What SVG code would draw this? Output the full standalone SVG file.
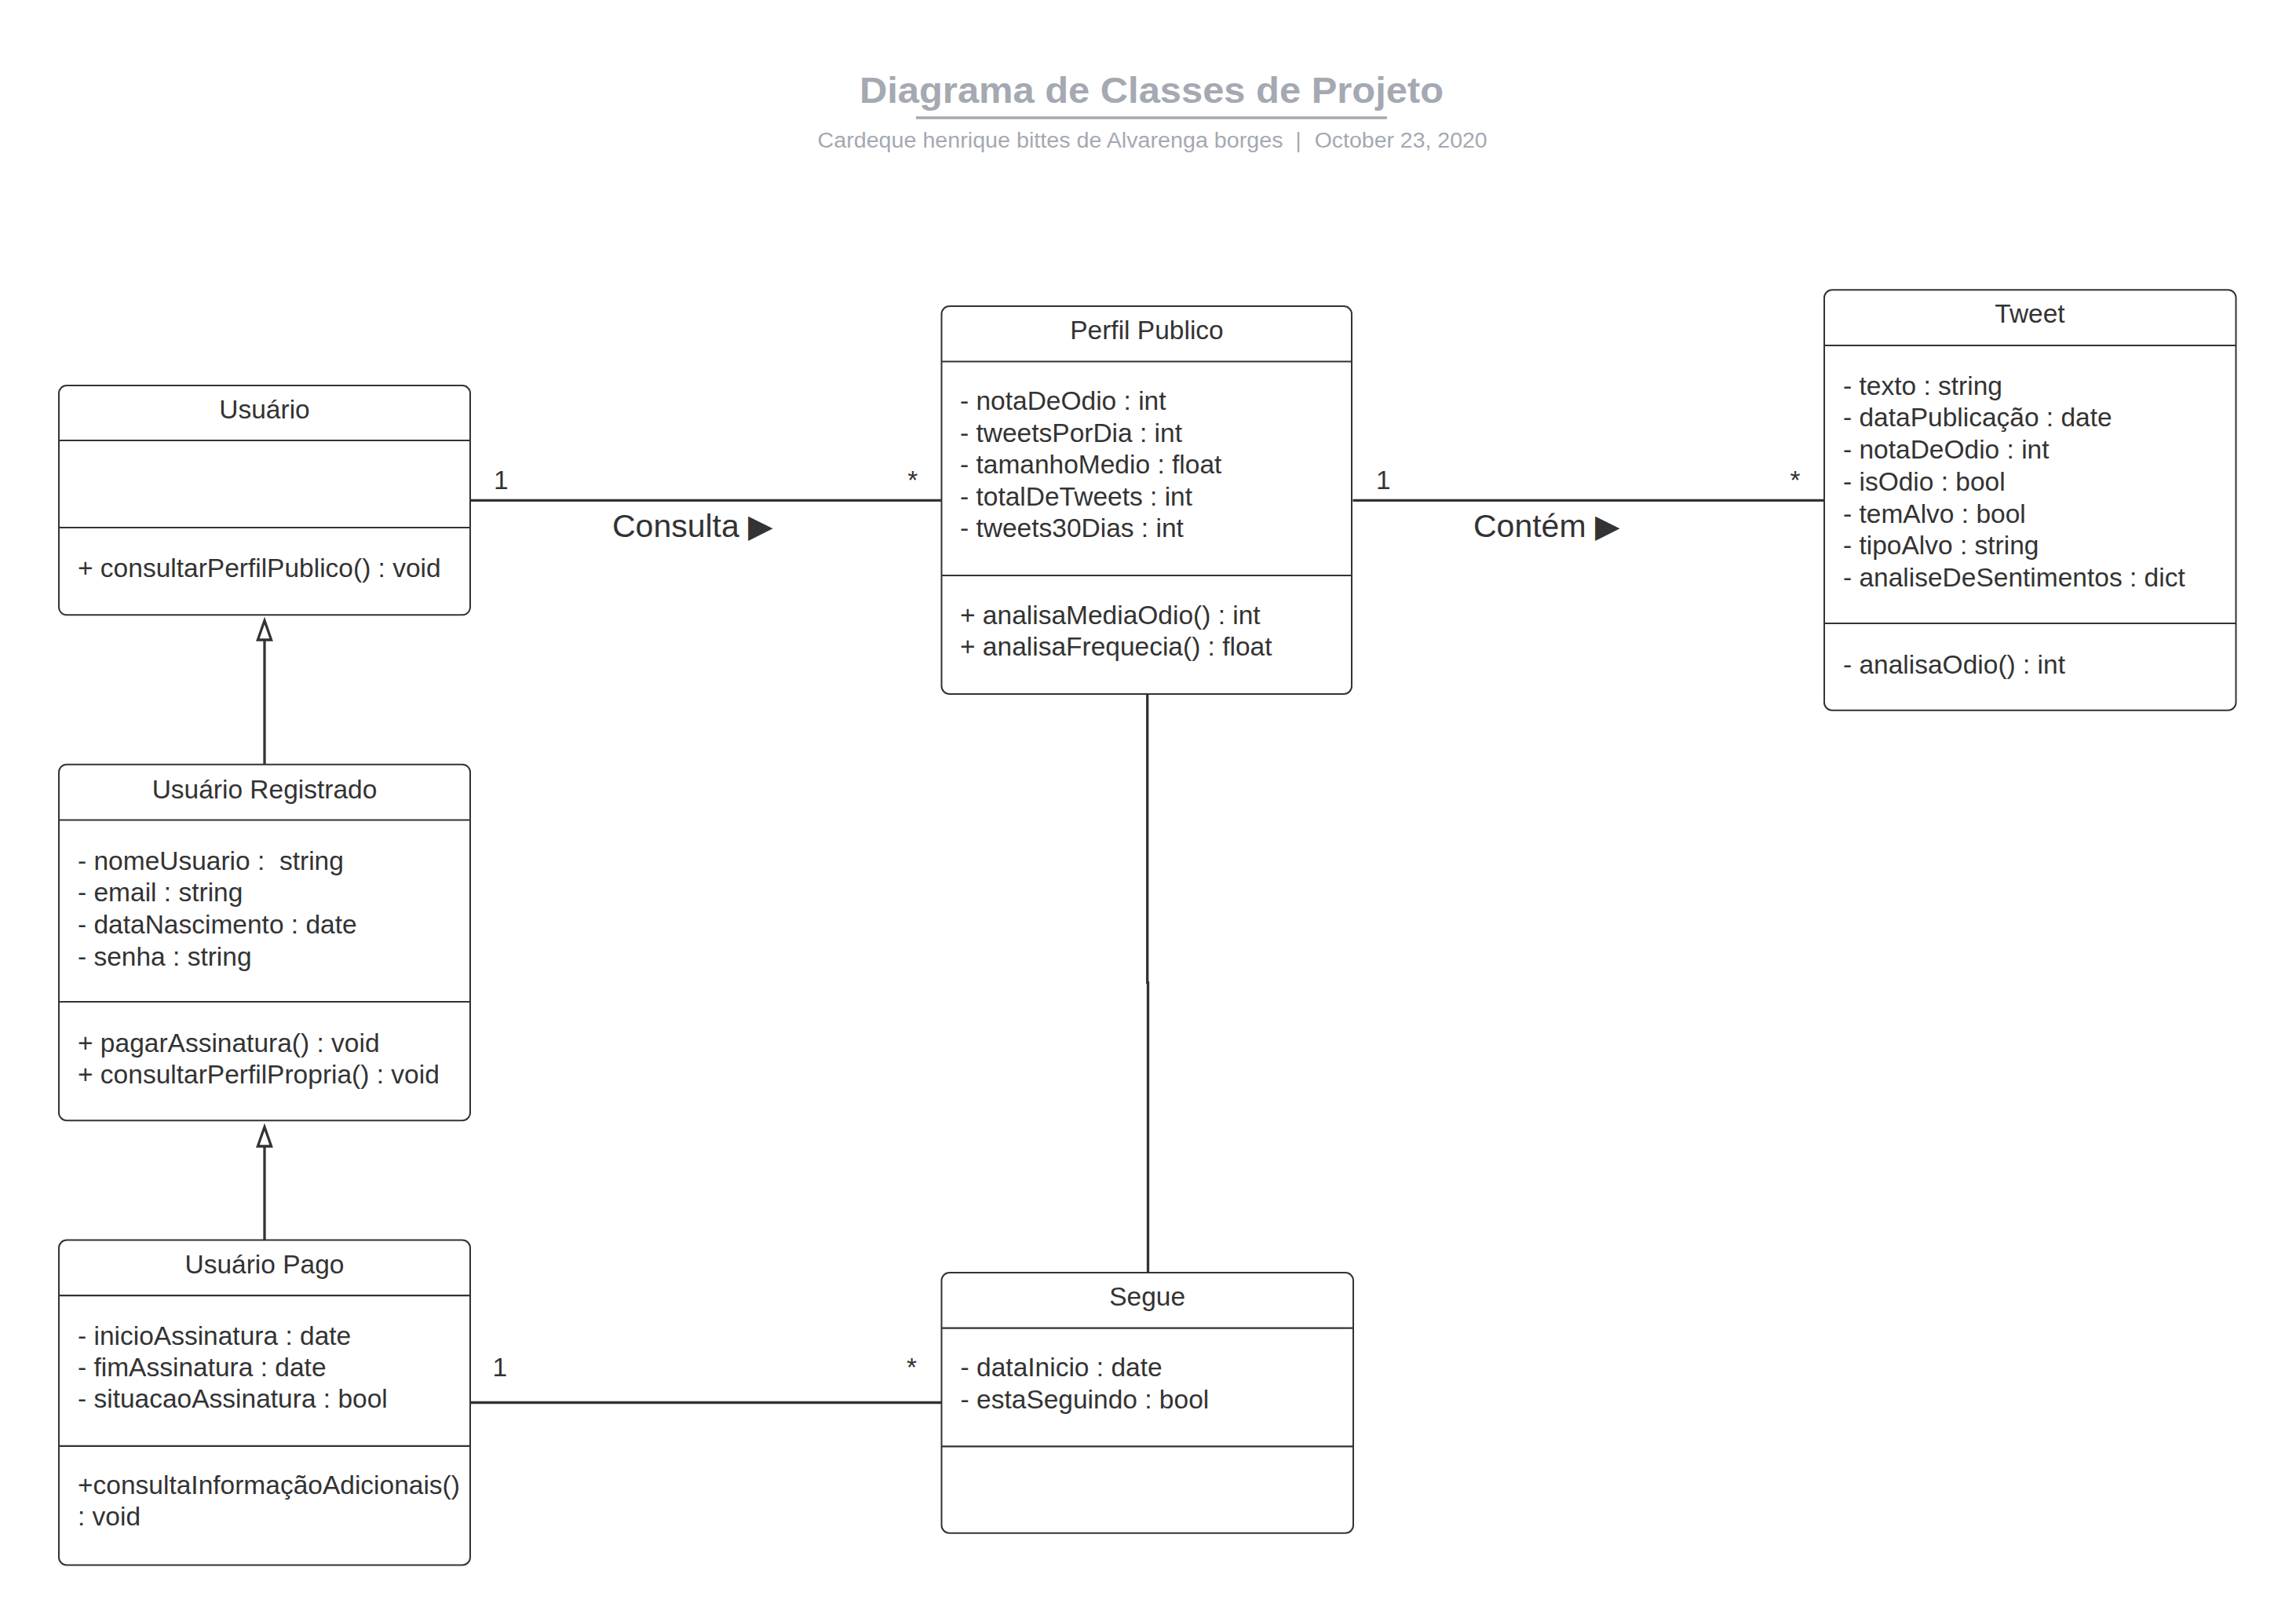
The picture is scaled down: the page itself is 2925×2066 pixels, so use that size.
<svg xmlns="http://www.w3.org/2000/svg" width="2925" height="2066" viewBox="0 0 2925 2066">
<style>
.bg{fill:#ffffff}
.box{fill:#ffffff;stroke:#333333;stroke-width:2}
.div{stroke:#333333;stroke-width:2.2}
.t{font-family:"Liberation Sans",Arial,sans-serif;font-size:33.5px;fill:#333333}
.c{text-anchor:middle}
.conn{fill:none;stroke:#333333;stroke-width:3.3}
.gen{fill:#ffffff;stroke:#333333;stroke-width:3.3;stroke-linejoin:miter}
.lbl{font-family:"Liberation Sans",Arial,sans-serif;font-size:41px;fill:#333333}
.head{font-family:"Liberation Sans",Arial,sans-serif;fill:#a4a9b2}
</style>
<rect class="bg" x="0" y="0" width="2925" height="2066"/>

<g id="header">
  <text class="head" x="1095" y="130.7" font-size="46" font-weight="bold" textLength="744" lengthAdjust="spacingAndGlyphs">Diagrama de Classes de Projeto</text>
  <line x1="1167" y1="150" x2="1767" y2="150" stroke="#a4a9b2" stroke-width="3.4"/>
  <text class="head" x="1041.5" y="187.7" font-size="27" textLength="593" lengthAdjust="spacingAndGlyphs">Cardeque henrique bittes de Alvarenga borges</text>
  <text class="head" x="1654" y="187.7" font-size="27" text-anchor="middle">|</text>
  <text class="head" x="1674.7" y="187.7" font-size="27" textLength="220" lengthAdjust="spacingAndGlyphs">October 23, 2020</text>
</g>

<g id="connectors">
  <path class="conn" d="M599,637.3 H1199.5"/>
  <path class="conn" d="M1723.5,637.3 H2324"/>
  <path class="conn" d="M599,1786.5 H1199.5"/>
  <path class="conn" d="M1461.7,884 V1251.7 H1462.5 V1621"/>
  <path class="conn" d="M337,973.7 V815"/>
  <polygon class="gen" points="337,790.5 328.4,815 345.6,815"/>
  <path class="conn" d="M337,1579.5 V1460"/>
  <polygon class="gen" points="337,1435.5 328.4,1460 345.6,1460"/>
  <text class="t" x="629" y="623.3">1</text>
  <text class="t c" x="1162.7" y="623.3">*</text>
  <text class="lbl" x="780" y="684">Consulta ▶</text>
  <text class="t" x="1753" y="623.3">1</text>
  <text class="t c" x="2287" y="623.3">*</text>
  <text class="lbl" x="1877" y="684">Contém ▶</text>
  <text class="t" x="627.5" y="1752.5">1</text>
  <text class="t c" x="1161.4" y="1752.5">*</text>
</g>

<g id="usuario">
  <rect class="box" x="75" y="491" width="524" height="292.3" rx="10"/>
  <line class="div" x1="75" y1="561" x2="599" y2="561"/>
  <line class="div" x1="75" y1="672" x2="599" y2="672"/>
  <text class="t c" x="337" y="533">Usuário</text>
  <text class="t" x="99" y="735">+ consultarPerfilPublico() : void</text>
</g>

<g id="perfil-publico">
  <rect class="box" x="1199.5" y="390" width="522.5" height="494" rx="10"/>
  <line class="div" x1="1199.5" y1="460.5" x2="1722" y2="460.5"/>
  <line class="div" x1="1199.5" y1="733" x2="1722" y2="733"/>
  <text class="t c" x="1461" y="432.2">Perfil Publico</text>
  <text class="t" x="1223" y="522">- notaDeOdio : int</text>
  <text class="t" x="1223" y="562.5">- tweetsPorDia : int</text>
  <text class="t" x="1223" y="603">- tamanhoMedio : float</text>
  <text class="t" x="1223" y="643.5">- totalDeTweets : int</text>
  <text class="t" x="1223" y="684">- tweets30Dias : int</text>
  <text class="t" x="1223" y="794.5">+ analisaMediaOdio() : int</text>
  <text class="t" x="1223" y="835">+ analisaFrequecia() : float</text>
</g>

<g id="tweet">
  <rect class="box" x="2324" y="369.3" width="524.5" height="535.4" rx="10"/>
  <line class="div" x1="2324" y1="440" x2="2848.5" y2="440"/>
  <line class="div" x1="2324" y1="794" x2="2848.5" y2="794"/>
  <text class="t c" x="2586" y="411.2">Tweet</text>
  <text class="t" x="2348" y="502.5">- texto : string</text>
  <text class="t" x="2348" y="543.2">- dataPublicação : date</text>
  <text class="t" x="2348" y="584">- notaDeOdio : int</text>
  <text class="t" x="2348" y="624.7">- isOdio : bool</text>
  <text class="t" x="2348" y="665.5">- temAlvo : bool</text>
  <text class="t" x="2348" y="706.2">- tipoAlvo : string</text>
  <text class="t" x="2348" y="746.9">- analiseDeSentimentos : dict</text>
  <text class="t" x="2348" y="857.5">- analisaOdio() : int</text>
</g>

<g id="usuario-registrado">
  <rect class="box" x="75" y="973.7" width="524" height="453.5" rx="10"/>
  <line class="div" x1="75" y1="1044.5" x2="599" y2="1044.5"/>
  <line class="div" x1="75" y1="1276" x2="599" y2="1276"/>
  <text class="t c" x="337" y="1016.5">Usuário Registrado</text>
  <text class="t" x="99" y="1107.5" xml:space="preserve">- nomeUsuario :  string</text>
  <text class="t" x="99" y="1148.4">- email : string</text>
  <text class="t" x="99" y="1188.9">- dataNascimento : date</text>
  <text class="t" x="99" y="1229.7">- senha : string</text>
  <text class="t" x="99" y="1339.5">+ pagarAssinatura() : void</text>
  <text class="t" x="99" y="1380.4">+ consultarPerfilPropria() : void</text>
</g>

<g id="usuario-pago">
  <rect class="box" x="75" y="1579.5" width="524" height="414" rx="10"/>
  <line class="div" x1="75" y1="1650.2" x2="599" y2="1650.2"/>
  <line class="div" x1="75" y1="1841.9" x2="599" y2="1841.9"/>
  <text class="t c" x="337" y="1621.5">Usuário Pago</text>
  <text class="t" x="99" y="1712.5">- inicioAssinatura : date</text>
  <text class="t" x="99" y="1752.5">- fimAssinatura : date</text>
  <text class="t" x="99" y="1792.5">- situacaoAssinatura : bool</text>
  <text class="t" x="99" y="1903.2">+consultaInformaçãoAdicionais()</text>
  <text class="t" x="99" y="1943.2">: void</text>
</g>

<g id="segue">
  <rect class="box" x="1199.5" y="1621" width="524.5" height="331.7" rx="10"/>
  <line class="div" x1="1199.5" y1="1691.7" x2="1724" y2="1691.7"/>
  <line class="div" x1="1199.5" y1="1842.4" x2="1724" y2="1842.4"/>
  <text class="t c" x="1461.7" y="1663.4">Segue</text>
  <text class="t" x="1223.6" y="1753.4">- dataInicio : date</text>
  <text class="t" x="1223.6" y="1794">- estaSeguindo : bool</text>
</g>
</svg>
